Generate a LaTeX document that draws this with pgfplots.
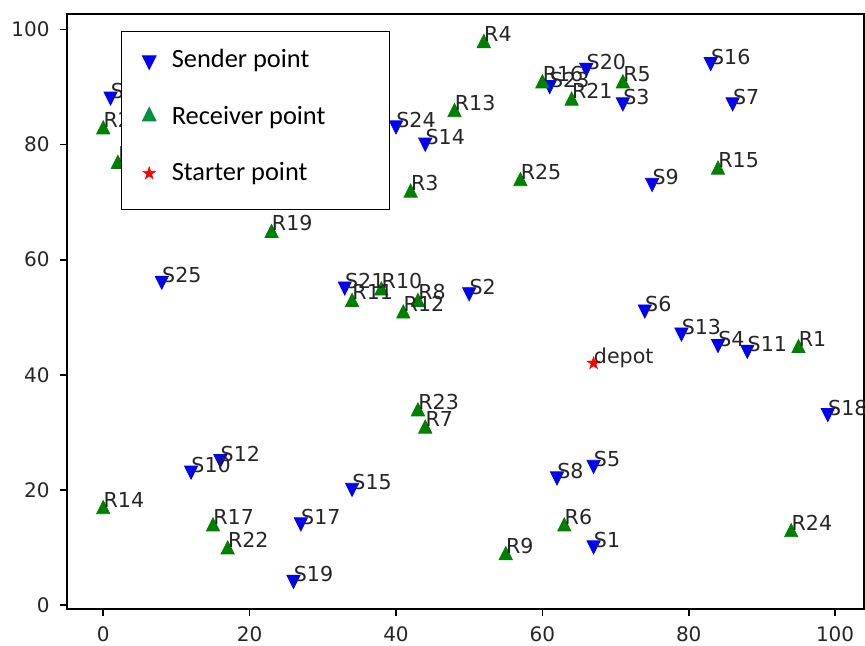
\documentclass[border=0pt]{standalone}
\usepackage{pgfplots}
\pgfplotsset{compat=1.18}
\usepackage{pgfplotstable}
\usepackage{fontspec}
\setmainfont{DejaVu Sans}
\newfontfamily\carlito{Carlito}
\definecolor{sblue}{RGB}{0,0,255}
\definecolor{rgreen}{RGB}{0,128,0}
\definecolor{lgreen}{RGB}{0,146,63}
\definecolor{txt}{RGB}{38,38,38}

\pgfdeclareplotmark{fstar}{%
  \pgfpathmoveto{\pgfpointpolar{90}{\pgfplotmarksize}}%
  \pgfpathlineto{\pgfpointpolar{126}{0.382\pgfplotmarksize}}%
  \pgfpathlineto{\pgfpointpolar{162}{\pgfplotmarksize}}%
  \pgfpathlineto{\pgfpointpolar{198}{0.382\pgfplotmarksize}}%
  \pgfpathlineto{\pgfpointpolar{234}{\pgfplotmarksize}}%
  \pgfpathlineto{\pgfpointpolar{270}{0.382\pgfplotmarksize}}%
  \pgfpathlineto{\pgfpointpolar{306}{\pgfplotmarksize}}%
  \pgfpathlineto{\pgfpointpolar{342}{0.382\pgfplotmarksize}}%
  \pgfpathlineto{\pgfpointpolar{18}{\pgfplotmarksize}}%
  \pgfpathlineto{\pgfpointpolar{54}{0.382\pgfplotmarksize}}%
  \pgfpathclose
  \pgfusepathqfillstroke
}

\pgfplotstableread{
x y label
1 88 S22
40 83 S24
44 80 S14
66 93 S20
61 90 S23
71 87 S3
83 94 S16
86 87 S7
75 73 S9
8 56 S25
33 55 S21
50 54 S2
74 51 S6
79 47 S13
84 45 S4
88 44 S11
99 33 S18
16 25 S12
12 23 S10
34 20 S15
62 22 S8
67 24 S5
27 14 S17
67 10 S1
26 4 S19
}\senders

\pgfplotstableread{
x y label
0 83 R2
2 77 R18
52 98 R4
48 86 R13
60 91 R16
64 88 R21
71 91 R5
42 72 R3
57 74 R25
84 76 R15
23 65 R19
34 53 R11
38 55 R10
43 53 R8
41 51 R12
43 34 R23
44 31 R7
95 45 R1
0 17 R14
15 14 R17
17 10 R22
55 9 R9
63 14 R6
94 13 R24
}\receivers

\pgfplotstableread{
x y label
67 42 depot
}\depot

\begin{document}
\begin{tikzpicture}
\begin{axis}[
  scale only axis, width=398.5pt, height=297.5pt,
  xmin=-4.95, xmax=103.95, ymin=-0.7, ymax=102.7,
  xtick={0,20,...,100}, ytick={0,20,...,100},
  axis line style={line width=0.8pt, black},
  tick style={line width=0.8pt, black},
  tick align=outside, tickpos=left, major tick length=3.5pt,
  /pgf/number format/assume math mode=true,
  ticklabel style={font=\fontsize{10}{12}\selectfont, text=txt},
  yticklabel style={inner sep=0pt, xshift=-5pt},
  xticklabel style={inner sep=0pt, yshift=-5pt},
  legend cell align=left,
  legend style={at={(0.0678,0.9714)}, anchor=north west, draw=black,
    line width=0.6pt, fill=white, text=black,
    font=\carlito\fontsize{13.2}{15}\selectfont,
    row sep=13.5pt, inner xsep=10.5pt, inner ysep=7pt,
    /tikz/every odd column/.style={column sep=6pt}},
  snode/.style={draw=none, mark=none, forget plot,
    nodes near coords={\pgfplotspointmeta}, point meta=explicit symbolic,
    nodes near coords style={anchor=base west, inner sep=0pt,
      font=\fontsize{10.3}{12}\selectfont, text=txt}},
]
\addlegendimage{only marks, mark=triangle*, mark size=3.8pt, color=sblue, mark options={yscale=1.15, rotate=180}}
\addlegendentry{Sender point}
\addlegendimage{only marks, mark=triangle*, mark size=3.8pt, color=lgreen, mark options={yscale=1.15}}
\addlegendentry{Receiver point\hspace*{19.5pt}}
\addlegendimage{only marks, mark=fstar, mark size=3.4pt, color=red, mark options={yshift=1.6pt, fill=red, line width=0.2pt}}
\addlegendentry[text depth=5.5pt]{Starter point}

\addplot[only marks, forget plot, mark=triangle*, mark size=3.8pt, color=sblue,
  mark options={yshift=1.1pt, yscale=1.15, rotate=180}] table[x=x,y=y] {\senders};
\addplot[only marks, forget plot, mark=triangle*, mark size=3.8pt, color=rgreen,
  mark options={yshift=-1.1pt, yscale=1.15}] table[x=x,y=y] {\receivers};
\addplot[only marks, forget plot, mark=fstar, mark size=3.4pt, color=red,
  mark options={fill=red, line width=0.2pt}] table[x=x,y=y] {\depot};

\addplot[snode] table[x=x,y=y,meta=label] {\senders};
\addplot[snode] table[x=x,y=y,meta=label] {\receivers};
\addplot[snode] table[x=x,y=y,meta=label] {\depot};

\coordinate (bl) at (rel axis cs:0,0);
\coordinate (tr) at (rel axis cs:1,1);
\end{axis}
\pgfresetboundingbox
\path[use as bounding box] ([xshift=-33.5pt,yshift=-18.5pt]bl) rectangle ([xshift=0.5pt,yshift=7pt]tr);
\end{tikzpicture}
\end{document}
